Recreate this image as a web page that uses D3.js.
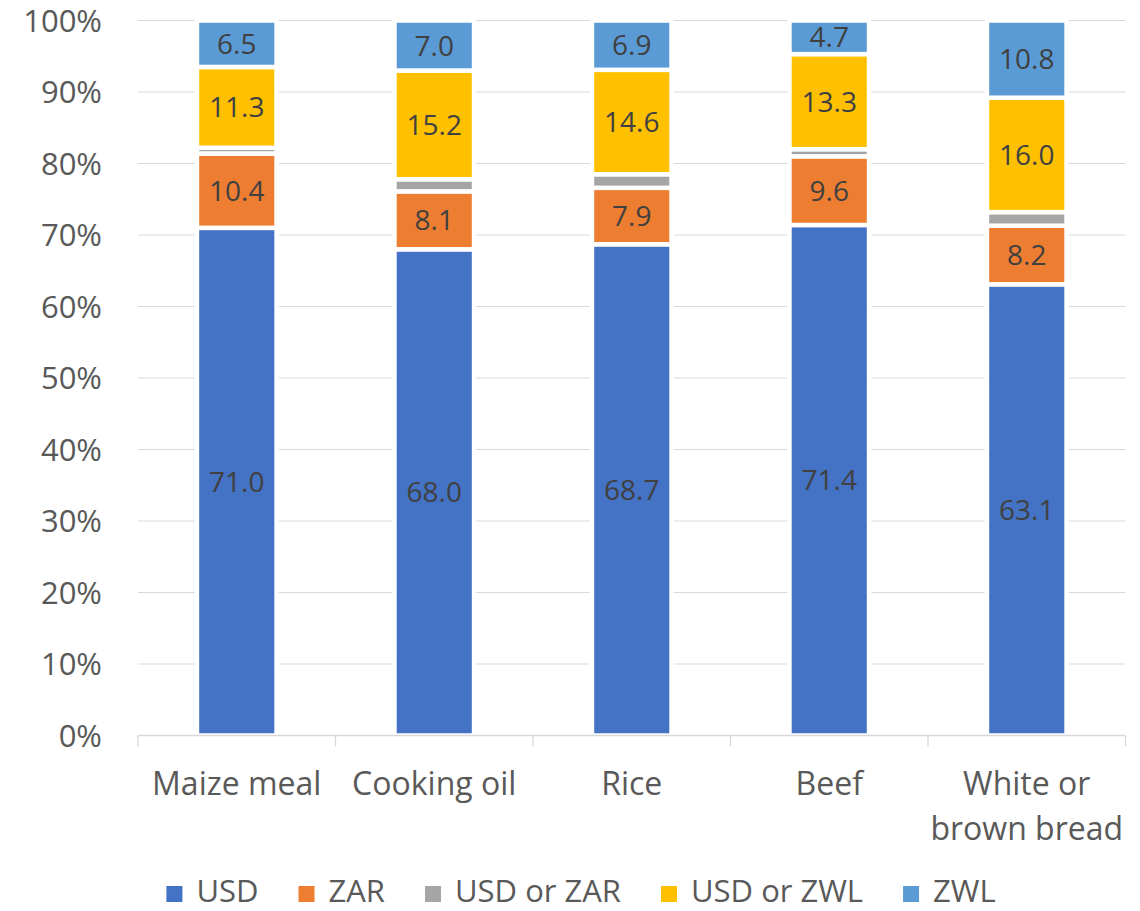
<!DOCTYPE html>
<html>
<head>
<meta charset="utf-8">
<script src="https://cdn.jsdelivr.net/npm/d3@7"></script>
<style>
  html, body { margin: 0; padding: 0; background: #ffffff; }
  svg { display: block; font-family: "Open Sans", "Noto Sans", sans-serif; }
</style>
</head>
<body>
<svg id="chart" width="1140" height="911"></svg>
<script>
// Share of purchases by currency used, per food item (%)
const categories = ["Maize meal", "Cooking oil", "Rice", "Beef", "White or brown bread"];
const categoryLines = [["Maize meal"], ["Cooking oil"], ["Rice"], ["Beef"], ["White or", "brown bread"]];
const seriesNames = ["USD", "ZAR", "USD or ZAR", "USD or ZWL", "ZWL"];
const usd      = [71.0, 68.0, 68.7, 71.4, 63.1];
const zar      = [10.4, 8.1, 7.9, 9.6, 8.2];
const usdOrZar = [0.8, 1.7, 1.9, 1.0, 1.9];
const usdOrZwl = [11.3, 15.2, 14.6, 13.3, 16.0];
const zwl      = [6.5, 7.0, 6.9, 4.7, 10.8];
const labelled = [true, true, false, true, true];
const yTicks = [0, 10, 20, 30, 40, 50, 60, 70, 80, 90, 100];
const colors = ["#4472C4", "#ED7D31", "#A5A5A5", "#FFC000", "#5B9BD5"];

const seriesValues = [usd, zar, usdOrZar, usdOrZwl, zwl];
const rows = categories.map((c, i) => {
  const r = { category: c };
  seriesNames.forEach((s, k) => { r[s] = seriesValues[k][i]; });
  return r;
});

const svg = d3.select("#chart");
const plot = { left: 138, right: 1125.5, top: 20.5, bottom: 735.5 };

const x = d3.scaleBand()
  .domain(categories)
  .range([plot.left, plot.right])
  .paddingInner(0.597)
  .paddingOuter(0.2985);

const y = d3.scaleLinear().domain([0, 100]).range([plot.bottom, plot.top]);

// horizontal gridlines
svg.append("g")
  .selectAll("line")
  .data(yTicks.filter(t => t > 0))
  .join("line")
  .attr("x1", plot.left).attr("x2", plot.right)
  .attr("y1", d => y(d)).attr("y2", d => y(d))
  .attr("stroke", "#D9D9D9").attr("stroke-width", 1);

// y-axis labels
svg.append("g")
  .selectAll("text")
  .data(yTicks)
  .join("text")
  .attr("x", 102)
  .attr("y", d => y(d) + 11)
  .attr("text-anchor", "end")
  .attr("font-size", 31)
  .attr("fill", "#595959")
  .text(d => d + "%");

// stacked bars
const stack = d3.stack().keys(seriesNames);
const layers = stack(rows);

const layerG = svg.append("g")
  .selectAll("g")
  .data(layers)
  .join("g")
  .attr("fill", (d, i) => colors[i]);

layerG.selectAll("rect")
  .data(d => d.map(p => ({ lo: p[0], hi: p[1], cat: p.data.category })))
  .join("rect")
  .attr("x", d => x(d.cat))
  .attr("width", x.bandwidth())
  .attr("y", d => y(d.hi))
  .attr("height", d => y(d.lo) - y(d.hi))
  .attr("stroke", "#ffffff")
  .attr("stroke-width", 4.5);

// data labels
layers.forEach((layer, k) => {
  if (!labelled[k]) return;
  svg.append("g")
    .selectAll("text")
    .data(layer)
    .join("text")
    .attr("x", d => x(d.data.category) + x.bandwidth() / 2)
    .attr("y", d => y((d[0] + d[1]) / 2) + 10)
    .attr("text-anchor", "middle")
    .attr("font-size", 28)
    .attr("fill", "#404040")
    .text(d => (d[1] - d[0]).toFixed(1));
});

// category axis line and tick marks between categories
const axisG = svg.append("g");
axisG.append("line")
  .attr("x1", plot.left).attr("x2", plot.right)
  .attr("y1", plot.bottom).attr("y2", plot.bottom)
  .attr("stroke", "#D9D9D9").attr("stroke-width", 1.3);
const step = x.step();
axisG.selectAll("line.tick")
  .data(d3.range(categories.length + 1))
  .join("line")
  .attr("class", "tick")
  .attr("x1", i => plot.left + i * step).attr("x2", i => plot.left + i * step)
  .attr("y1", plot.bottom).attr("y2", plot.bottom + 11)
  .attr("stroke", "#D9D9D9").attr("stroke-width", 1.3);

// category labels
const catG = svg.append("g")
  .selectAll("text")
  .data(categories)
  .join("text")
  .attr("x", d => x(d) + x.bandwidth() / 2)
  .attr("y", 795)
  .attr("text-anchor", "middle")
  .attr("font-size", 32)
  .attr("fill", "#595959");
catG.selectAll("tspan")
  .data((d, i) => categoryLines[i])
  .join("tspan")
  .attr("x", function () { return this.parentNode.getAttribute("x"); })
  .attr("dy", (d, j) => j === 0 ? 0 : 45)
  .text(d => d);

// legend
const legend = svg.append("g");
const items = legend.selectAll("g")
  .data(seriesNames)
  .join("g");
items.append("rect")
  .attr("width", 16).attr("height", 16)
  .attr("y", 886)
  .attr("fill", (d, i) => colors[i]);
items.append("text")
  .attr("x", 30)
  .attr("y", 902)
  .attr("font-size", 31)
  .attr("fill", "#595959")
  .text(d => d);
const gap = 40;
let cursor = 0;
const offsets = [];
items.each(function () {
  offsets.push(cursor);
  const w = d3.select(this).select("text").node().getComputedTextLength();
  cursor += 30 + w + gap;
});
const legendWidth = cursor - gap;
const legendStart = 581 - legendWidth / 2;
items.attr("transform", (d, i) => `translate(${legendStart + offsets[i]},0)`);
</script>
</body>
</html>
